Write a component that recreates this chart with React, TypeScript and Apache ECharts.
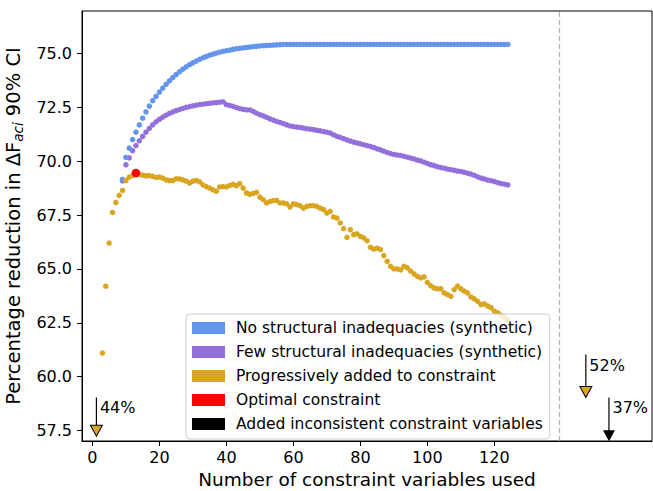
import React, { useEffect, useRef } from "react";
import * as echarts from "echarts";

const xTicks = [0, 20, 40, 60, 80, 100, 120];
const yTicks = [57.5, 60, 62.5, 65, 67.5, 70, 72.5, 75];

const legendNames = [
  "No structural inadequacies (synthetic)",
  "Few structural inadequacies (synthetic)",
  "Progressively added to constraint",
  "Optimal constraint",
  "Added inconsistent constraint variables",
];

const blueStartX = 9;
const blueValues = [
  69.15, 70.17, 70.6, 71.0, 71.34, 71.68, 71.99, 72.28, 72.55, 72.8,
  73.0, 73.2, 73.38, 73.56, 73.72, 73.87, 74.01, 74.14, 74.26, 74.37,
  74.47, 74.56, 74.64, 74.72, 74.79, 74.85, 74.91, 74.96, 75.01, 75.05,
  75.09, 75.12, 75.15, 75.18, 75.21, 75.23, 75.25, 75.27, 75.29, 75.31,
  75.32, 75.34, 75.35, 75.36, 75.37, 75.38, 75.39, 75.4, 75.41, 75.41,
  75.41, 75.41, 75.41, 75.41, 75.41, 75.41, 75.41, 75.41, 75.41, 75.41,
  75.41, 75.41, 75.41, 75.41, 75.41, 75.41, 75.41, 75.41, 75.41, 75.41,
  75.41, 75.41, 75.41, 75.41, 75.41, 75.41, 75.41, 75.41, 75.41, 75.41,
  75.41, 75.41, 75.41, 75.41, 75.41, 75.41, 75.41, 75.41, 75.41, 75.41,
  75.41, 75.41, 75.41, 75.41, 75.41, 75.41, 75.41, 75.41, 75.41, 75.41,
  75.41, 75.41, 75.41, 75.41, 75.41, 75.41, 75.41, 75.41, 75.41, 75.41,
  75.41, 75.41, 75.41, 75.41, 75.41, 75.41,
];

const purpleStartX = 9;
const purpleValues = [
  69.08, 69.83, 70.15, 70.48, 70.72, 70.94, 71.14, 71.34, 71.52, 71.68,
  71.82, 71.94, 72.04, 72.13, 72.21, 72.28, 72.34, 72.39, 72.44, 72.49,
  72.53, 72.56, 72.59, 72.62, 72.64, 72.66, 72.68, 72.7, 72.71, 72.73,
  72.75, 72.62, 72.58, 72.54, 72.48, 72.43, 72.4, 72.38, 72.37, 72.3,
  72.22, 72.15, 72.1, 72.03, 71.96, 71.9, 71.84, 71.79, 71.74, 71.68,
  71.63, 71.6, 71.58, 71.56, 71.53, 71.5, 71.48, 71.46, 71.43, 71.4,
  71.37, 71.34, 71.3, 71.22, 71.15, 71.1, 71.04, 70.98, 70.93, 70.88,
  70.84, 70.8, 70.76, 70.72, 70.68, 70.63, 70.57, 70.52, 70.46, 70.4,
  70.35, 70.31, 70.28, 70.26, 70.22, 70.18, 70.14, 70.1, 70.05, 70.01,
  69.95, 69.89, 69.83, 69.79, 69.74, 69.7, 69.67, 69.63, 69.6, 69.57,
  69.54, 69.52, 69.48, 69.44, 69.4, 69.34, 69.27, 69.21, 69.17, 69.12,
  69.09, 69.05, 69.0, 68.96, 68.93, 68.9,
];

const goldStartX = 3;
const goldValues = [
  61.1, 64.2, 66.2, 67.62, 68.08, 68.41, 68.64, 69.1, 69.26, 69.33,
  69.42, 69.38, 69.35, 69.32, 69.33, 69.29, 69.24, 69.26, 69.21, 69.13,
  69.1, 69.1, 69.18, 69.17, 69.13, 69.07, 68.98, 69.07, 69.1, 69.04,
  68.9, 68.82, 68.75, 68.67, 68.6, 68.8, 68.82, 68.8, 68.87, 68.92,
  68.86, 68.95, 68.75, 68.52, 68.46, 68.5, 68.55, 68.33, 68.21, 68.06,
  68.13, 68.17, 68.18, 68.06, 68.06, 68.02, 67.87, 68.02, 67.98, 67.93,
  67.82, 67.9, 67.93, 67.93, 67.9, 67.82, 67.75, 67.59, 67.67, 67.41,
  67.36, 67.13, 66.87, 66.46, 66.82, 66.59, 66.62, 66.51, 66.44, 66.31,
  66.0, 65.92, 65.96, 65.9, 65.62, 65.35, 65.12, 65.0, 65.0, 64.95,
  65.12, 65.05, 64.9, 64.77, 64.66, 64.58, 64.63, 64.38, 64.22, 64.12,
  64.08, 64.08, 63.89, 63.81, 63.73, 64.04, 64.2, 64.08, 63.97, 63.89,
  63.7, 63.61, 63.5, 63.35, 63.38, 63.28, 63.2, 63.04, 62.96, 62.85,
  62.75, 62.65,
];

const optimalPoint = [13, 69.45];

// off-scale annotations (arrows)
const arrowX = [1.2, 147.3, 154.2];
const arrowTop = [59.04, 61.03, 59.04];
const arrowTip = [57.5, 59.29, 57.26];
const arrowLabels = ["44%", "52%", "37%"];
const arrowIsInconsistent = [false, false, true];

const inconsistentBoundaryX = 139.5;

const FONT = "DejaVu Sans";
const BLUE = "#6495ED";
const PURPLE = "#9370DB";
const GOLD = "#DAA520";
const RED = "#FF0000";

function toPoints(start: number, vals: number[]) {
  return vals.map((v, i) => [start + i, v]);
}

export default function App() {
  const ref = useRef<HTMLDivElement>(null);
  useEffect(() => {
    if (!ref.current) return;
    const chart = echarts.init(ref.current, undefined, { renderer: "svg" });

    const arrowLineSeries = arrowX.map((x, i) => ({
      type: "line",
      silent: true,
      symbol: "none",
      z: 5,
      lineStyle: { color: "#000", width: 1.2 },
      data: [
        [x, arrowTop[i]],
        [x, arrowTip[i]],
      ],
    }));

    const tri = (flag: boolean) =>
      arrowX
        .map((x, i) => ({ x, i }))
        .filter((d) => arrowIsInconsistent[d.i] === flag)
        .map((d) => [d.x, arrowTip[d.i]]);

    const option: any = {
      animation: false,
      grid: {
        left: 82,
        right: 1,
        top: 11,
        bottom: 50,
        show: true,
        borderColor: "#000",
        borderWidth: 1,
        backgroundColor: "transparent",
        containLabel: false,
        outerBoundsMode: "none",
      },
      legend: {
        data: legendNames,
        orient: "vertical",
        left: 186,
        top: 314,
        icon: "rect",
        itemWidth: 33,
        itemHeight: 12,
        itemGap: 8,
        padding: [6, 7, 7, 6],
        backgroundColor: "rgba(255,255,255,0.8)",
        borderColor: "#cccccc",
        borderWidth: 1,
        borderRadius: 4,
        selectedMode: false,
        textStyle: {
          fontFamily: FONT,
          fontSize: 15.5,
          lineHeight: 15,
          color: "#000",
          padding: [0, 0, 0, 6],
        },
      },
      xAxis: {
        type: "value",
        min: -3.1,
        max: 167.05,
        splitLine: { show: false },
        axisLine: { show: true, onZero: false, lineStyle: { color: "#000", width: 1 } },
        axisTick: {
          show: true,
          customValues: xTicks,
          length: 5,
          lineStyle: { color: "#000", width: 1 },
        },
        axisLabel: {
          customValues: xTicks,
          fontFamily: FONT,
          fontSize: 16,
          color: "#000",
          margin: 8,
          formatter: (v: number) => String(Math.round(v)),
        },
        name: "Number of constraint variables used",
        nameLocation: "middle",
        nameGap: 27,
        nameTextStyle: { fontFamily: FONT, fontSize: 18.5, color: "#000" },
      },
      yAxis: {
        type: "value",
        min: 57.02,
        max: 76.96,
        splitLine: { show: false },
        axisLine: { show: true, onZero: false, lineStyle: { color: "#000", width: 1 } },
        axisTick: {
          show: true,
          customValues: yTicks,
          length: 5,
          lineStyle: { color: "#000", width: 1 },
        },
        axisLabel: {
          customValues: yTicks,
          fontFamily: FONT,
          fontSize: 16,
          color: "#000",
          margin: 10,
          formatter: (v: number) => v.toFixed(1),
        },
        name: "Percentage reduction in ΔF{sub|aci} 90% CI",
        nameLocation: "middle",
        nameRotate: 90,
        nameGap: 51,
        nameTextStyle: {
          fontFamily: FONT,
          fontSize: 19.5,
          color: "#000",
          lineHeight: 24,
          rich: {
            sub: {
              fontFamily: FONT,
              fontSize: 13.5,
              fontStyle: "italic",
              color: "#000",
              lineHeight: 13,
              verticalAlign: "bottom",
            },
          },
        },
      },
      series: [
        {
          name: "_boundary",
          type: "line",
          data: [],
          silent: true,
          markLine: {
            silent: true,
            symbol: "none",
            label: { show: false },
            lineStyle: { color: "#b0b0b0", type: [5, 3], width: 1.2 },
            data: [{ xAxis: inconsistentBoundaryX }],
          },
        },
        {
          name: legendNames[1],
          type: "scatter",
          symbolSize: 5.5,
          itemStyle: { color: PURPLE, opacity: 1 },
          data: toPoints(purpleStartX, purpleValues),
        },
        {
          name: legendNames[0],
          type: "scatter",
          symbolSize: 5.5,
          itemStyle: { color: BLUE, opacity: 1 },
          data: toPoints(blueStartX, blueValues),
        },
        {
          name: legendNames[2],
          type: "scatter",
          symbolSize: 5.5,
          itemStyle: { color: GOLD, opacity: 1 },
          data: toPoints(goldStartX, goldValues),
        },
        {
          name: legendNames[3],
          type: "scatter",
          symbolSize: 8.5,
          z: 3,
          itemStyle: { color: RED, opacity: 1 },
          data: [optimalPoint],
        },
        ...arrowLineSeries,
        {
          name: "_arrowLabels",
          type: "scatter",
          silent: true,
          symbol: "rect",
          symbolSize: 1,
          z: 6,
          itemStyle: { color: "rgba(0,0,0,0)", opacity: 1 },
          label: {
            show: true,
            formatter: (p: any) => arrowLabels[p.dataIndex],
            position: [4, 3],
            align: "left",
            verticalAlign: "top",
            fontFamily: FONT,
            fontSize: 16,
            color: "#000",
          },
          data: arrowX.map((x, i) => [x, arrowTop[i]]),
        },
        {
          name: "_arrowTips",
          type: "scatter",
          symbol: "triangle",
          symbolRotate: 180,
          symbolSize: [12, 11],
          z: 6,
          itemStyle: { color: GOLD, borderColor: "#000", borderWidth: 1, opacity: 1 },
          data: tri(false),
        },
        {
          name: legendNames[4],
          type: "scatter",
          symbol: "triangle",
          symbolRotate: 180,
          symbolSize: [12, 11],
          z: 6,
          itemStyle: { color: "#000", opacity: 1 },
          data: tri(true),
        },
      ],
    };
    chart.setOption(option);
    return () => chart.dispose();
  }, []);
  return (
    <div
      ref={ref}
      style={{ position: "fixed", left: 0, top: 0, width: 653, height: 491, background: "#fff" }}
    />
  );
}
